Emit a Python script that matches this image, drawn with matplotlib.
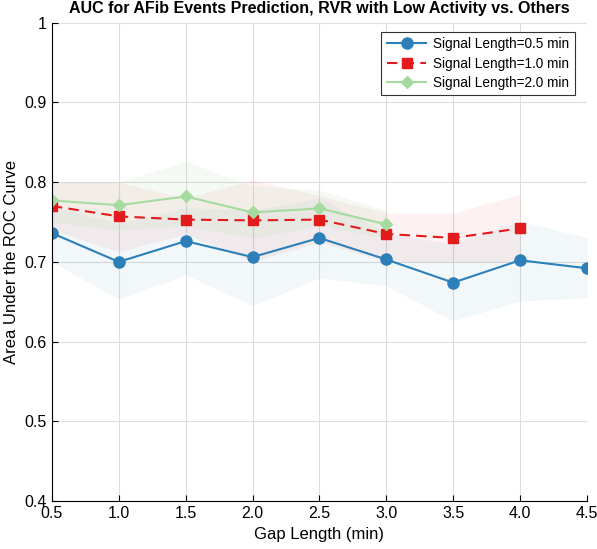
import matplotlib.pyplot as plt
import numpy as np

plt.rcParams['font.family'] = ['Liberation Sans', 'DejaVu Sans']

# gap lengths (min)
gap_05 = [0.5, 1.0, 1.5, 2.0, 2.5, 3.0, 3.5, 4.0, 4.5]
gap_10 = [0.5, 1.0, 1.5, 2.0, 2.5, 3.0, 3.5, 4.0]
gap_20 = [0.5, 1.0, 1.5, 2.0, 2.5, 3.0]

# mean AUC
auc_05 = [0.736, 0.700, 0.726, 0.706, 0.730, 0.703, 0.674, 0.702, 0.692]
auc_10 = [0.770, 0.757, 0.753, 0.752, 0.753, 0.735, 0.730, 0.742]
auc_20 = [0.777, 0.771, 0.782, 0.762, 0.767, 0.747]

# shaded band bounds
lo_05 = [0.700, 0.653, 0.684, 0.645, 0.680, 0.670, 0.626, 0.651, 0.655]
hi_05 = [0.770, 0.748, 0.768, 0.765, 0.780, 0.736, 0.722, 0.751, 0.730]
lo_10 = [0.740, 0.713, 0.735, 0.700, 0.725, 0.700, 0.700, 0.700]
hi_10 = [0.800, 0.800, 0.780, 0.803, 0.783, 0.761, 0.761, 0.785]
lo_20 = [0.750, 0.740, 0.745, 0.730, 0.745, 0.730]
hi_20 = [0.800, 0.800, 0.826, 0.795, 0.790, 0.765]

c_blue = '#2c7fb8'
c_red = '#e31a1c'
c_green = '#a6dba0'

fig = plt.figure(figsize=(5.97, 5.49), dpi=100)
ax = fig.add_axes([0.087, 0.087, 0.896, 0.872])

ax.fill_between(gap_05, lo_05, hi_05, color=c_blue, alpha=0.06, linewidth=0)
ax.fill_between(gap_10, lo_10, hi_10, color=c_red, alpha=0.06, linewidth=0)
ax.fill_between(gap_20, lo_20, hi_20, color=c_green, alpha=0.12, linewidth=0)

ax.plot(gap_05, auc_05, '-o', color=c_blue, lw=1.5, ms=8, label='Signal Length=0.5 min')
ax.plot(gap_10, auc_10, '--s', color=c_red, lw=1.5, ms=6.5, dashes=(5, 3), label='Signal Length=1.0 min')
ax.plot(gap_20, auc_20, '-D', color=c_green, lw=1.5, ms=6.5, label='Signal Length=2.0 min')

ax.set_xlim(0.5, 4.5)
ax.set_ylim(0.4, 1.0)
ax.set_xticks(np.arange(0.5, 4.6, 0.5))
ax.set_xticklabels(['%.1f' % v for v in np.arange(0.5, 4.6, 0.5)])
ax.set_yticks([0.4, 0.5, 0.6, 0.7, 0.8, 0.9, 1.0])
ax.set_yticklabels(['0.4', '0.5', '0.6', '0.7', '0.8', '0.9', '1'])
ax.tick_params(direction='in', labelsize=11.5, length=4)
ax.grid(True, color='#dddddd', lw=0.8)
ax.set_axisbelow(True)
ax.spines['top'].set_visible(False)
ax.spines['right'].set_visible(False)

ax.set_xlabel('Gap Length (min)', fontsize=12)
ax.set_ylabel('Area Under the ROC Curve', fontsize=12)
ax.set_title('AUC for AFib Events Prediction, RVR with Low Activity vs. Others',
             fontsize=11.5, fontweight='bold', pad=7)

leg = ax.legend(loc='upper right', bbox_to_anchor=(0.99, 0.995), fontsize=9.8,
                fancybox=False, edgecolor='#333333', framealpha=1,
                handlelength=2.9, handletextpad=0.5, borderpad=0.4, labelspacing=0.4)
leg.get_frame().set_linewidth(0.8)

fig.savefig('out.png', dpi=100)
